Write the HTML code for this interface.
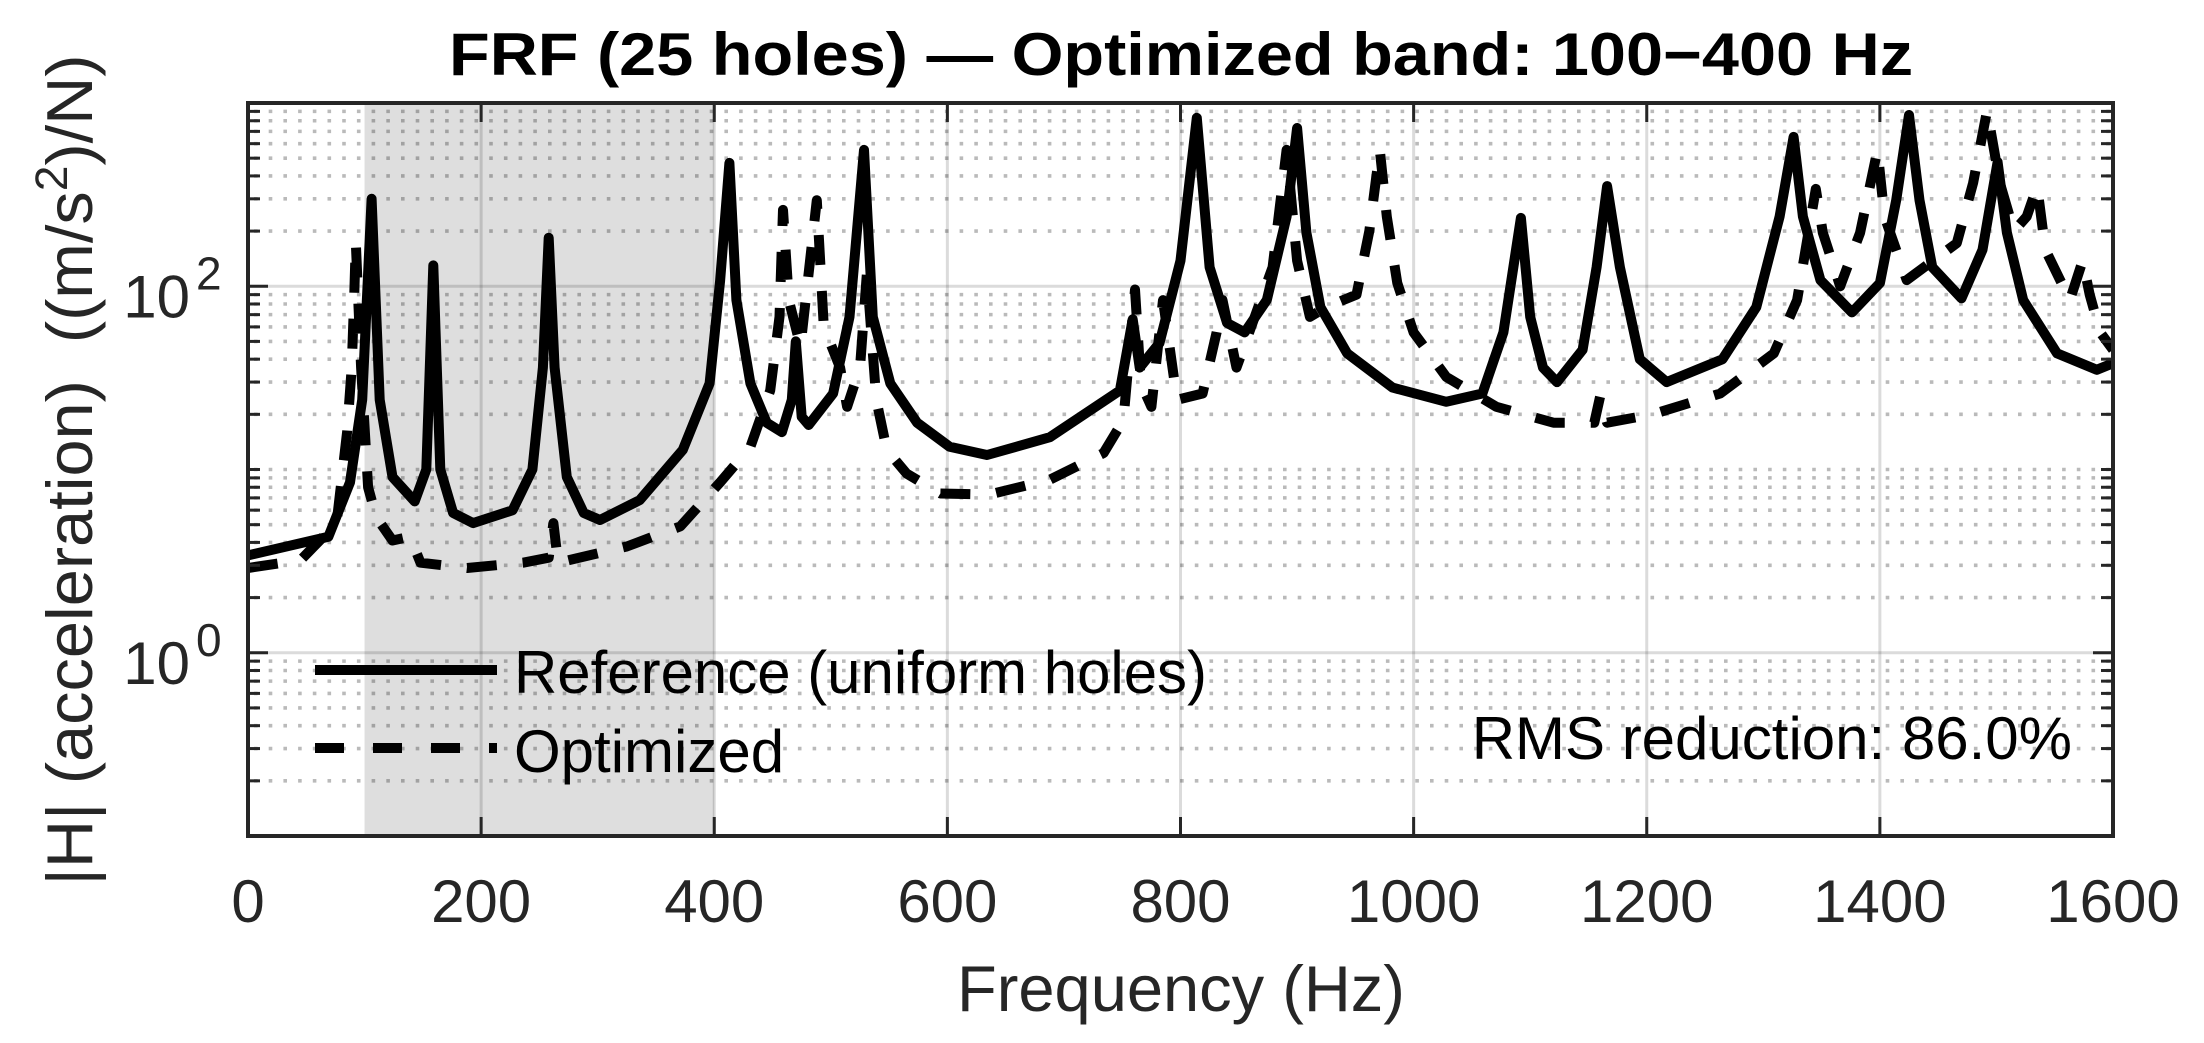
<!DOCTYPE html>
<html><head><meta charset="utf-8">
<style>
html,body{margin:0;padding:0;background:#fff;}
svg{display:block;font-family:"Liberation Sans",Arial,sans-serif;}
</style></head>
<body>
<svg id="chart" width="2204" height="1043" viewBox="0 0 2204 1043" xmlns="http://www.w3.org/2000/svg">
  <rect x="0" y="0" width="2204" height="1043" fill="#fff"/>
  <defs><clipPath id="plotclip"><rect x="248" y="103" width="1865" height="733"/></clipPath></defs>
  <g id="band"></g>
  <g id="grid"></g>
  <g id="series" clip-path="url(#plotclip)"></g>
  <g id="axes"></g>
  <text x="1181" y="75" text-anchor="middle" font-size="60" font-weight="bold" fill="#000" textLength="1464" lengthAdjust="spacingAndGlyphs">FRF (25 holes) — Optimized band: 100−400 Hz</text>
  <text x="1181" y="1011" text-anchor="middle" font-size="65" fill="#262626">Frequency (Hz)</text>
  <text transform="translate(92,470) rotate(-90)" text-anchor="middle" font-size="65" fill="#262626" textLength="831" lengthAdjust="spacingAndGlyphs">|H| (acceleration)&#160;&#160;((m/s<tspan font-size="45" dy="-25">2</tspan><tspan dy="25">)/N)</tspan></text>
  <g>
    <line x1="315" y1="670" x2="497" y2="670" stroke="#000" stroke-width="10"/>
    <text x="514" y="693" font-size="60" fill="#000" textLength="693" lengthAdjust="spacingAndGlyphs">Reference (uniform holes)</text>
    <line x1="315" y1="748" x2="497" y2="748" stroke="#000" stroke-width="10" stroke-dasharray="29 29"/>
    <text x="514" y="772" font-size="60" fill="#000">Optimized</text>
  </g>
  <text x="2072" y="759" text-anchor="end" font-size="60" fill="#000">RMS reduction: 86.0%</text>
</svg>
<script>
const xTicks = [0,200,400,600,800,1000,1200,1400,1600];
const yMajorExps = [0,2];
const bandRange = [100,400];
const refFreq = [0,69,87.5,98,106,113,124,143,153,159,165,176,193,227,244,253,258,263,273.5,288,302,336,373,396,405,413,419,431,445,458,466.5,470,475,481,502,516,528.5,536,551,574,602,634,688,748,759,765,782,800,814,825,840,855,874,891,900,908,920,943,982,1028,1059,1077,1092,1100,1111,1123,1145,1157,1166,1177,1194,1217,1265,1294,1314,1326,1334,1349,1376,1400,1414,1425,1434,1445,1470,1488,1501,1509,1523,1552,1586,1600];
const refVal = [3.4,4.3,8.5,24,300,24,9.1,6.7,10,130,10,5.8,5.1,6.0,10,36,184,36,9.1,5.8,5.3,6.8,12.8,29.5,107,471,84,29.5,18,16,24,50,19.4,17.5,26,68,555,68,29.5,18,13.3,12,15,27,66,36,49,138,830,127,63,56,84,240,730,196,77,43,28,23.4,26,56,236,68,36,30,45,127,352,127,40,30,40,77,240,653,240,108,72,104,295,860,295,127,86,158,476,196,84,43,35,38];
const optFreq = [0,45,76,85,89,91,92.5,97,103,110,124,139,148,188,236,258,262,266,325,371,405,431,448,456,459,464,474,488,494,508,514,525,531,539,548,565,594,636,688,734,751,761,766,775,785,797,819,831,836,848,879,891,900,911,925,951,962,971,977,986,1000,1028,1071,1120,1155,1160,1166,1205,1263,1309,1329,1345,1351,1366,1383,1398,1404,1423,1466,1480,1492,1503,1515,1526,1535,1542,1563,1574,1580,1589,1600];
const optVal = [2.9,3.2,5.1,16,36,84,174,36,8,5.5,4.1,4.3,3.1,2.9,3.1,3.3,5.1,3.1,3.8,4.9,8.5,13.3,27,68,261,84,47,295,60,36,22,36,118,24,12.8,9.5,7.4,7.3,8.8,12.3,18.6,96,29.5,22,84,24,26,56,84,36,127,555,138,68,77,90,200,555,240,104,56,32,22,18,18,25,18,20,26,43,84,340,196,100,196,555,240,108,172,366,910,366,200,240,350,158,84,138,90,56,45];

const NS = "http://www.w3.org/2000/svg";
const L = 248, R = 2113, T = 103, B = 836;
const xMin = 0, xMax = 1600, yLogMin = -1, yLogMax = 3;
function xs(f){ return L + (f - xMin) / (xMax - xMin) * (R - L); }
function ys(v){ return T + (yLogMax - Math.log10(v)) / (yLogMax - yLogMin) * (B - T); }
function mk(tag, attrs, parent){
  const e = document.createElementNS(NS, tag);
  for (const k in attrs) e.setAttribute(k, attrs[k]);
  parent.appendChild(e);
  return e;
}
const gBand = document.getElementById('band');
const gGrid = document.getElementById('grid');
const gSeries = document.getElementById('series');
const gAxes = document.getElementById('axes');

const band = mk('rect', {x: xs(bandRange[0]), y: T, width: xs(bandRange[1]) - xs(bandRange[0]), height: B - T, fill: '#dedede'}, gBand);



for (let e = yLogMin; e < yLogMax + 1; e++) {
  for (let m = 1; m <= 9; m++) {
    const v = m * Math.pow(10, e);
    const lg = Math.log10(v);
    if (lg < yLogMin - 1e-9 || lg > yLogMax + 1e-9) continue;
    const y = ys(v);
    const isMajor = (m === 1 && yMajorExps.indexOf(e) >= 0);
    if (isMajor) {
      const gl = mk('line', {x1: L, x2: R, y1: y, y2: y, stroke: '#000', 'stroke-opacity': 0.14, 'stroke-width': 3}, gGrid);
      
      
    } else {
      const gl = mk('line', {x1: L + 6, x2: R, y1: y, y2: y, stroke: '#000', 'stroke-opacity': 0.27, 'stroke-width': 3.6, 'stroke-dasharray': '3.6 11.1'}, gGrid);
      
      
    }
    const len = isMajor ? 20 : 12;
    const t1 = mk('line', {x1: L, x2: L + len, y1: y, y2: y, stroke: '#262626', 'stroke-width': 3}, gAxes);
    
    
    const t2 = mk('line', {x1: R, x2: R - len, y1: y, y2: y, stroke: '#262626', 'stroke-width': 3}, gAxes);
    
    
  }
}
xTicks.forEach(function(f){
  const x = xs(f);
  if (f > xMin && f < xMax) {
    const gl = mk('line', {x1: x, x2: x, y1: T, y2: B, stroke: '#000', 'stroke-opacity': 0.14, 'stroke-width': 3}, gGrid);
    
    
  }
  const tb = mk('line', {x1: x, x2: x, y1: B, y2: B - 19, stroke: '#262626', 'stroke-width': 3}, gAxes);
  
  
  const tt = mk('line', {x1: x, x2: x, y1: T, y2: T + 19, stroke: '#262626', 'stroke-width': 3}, gAxes);
  
  
  const lb = mk('text', {x: x, y: 922, 'text-anchor': 'middle', 'font-size': 60, fill: '#262626'}, gAxes);
  lb.textContent = String(f);
  
  
});
yMajorExps.forEach(function(e){
  const y = ys(Math.pow(10, e));
  const t = mk('text', {x: 190, y: y + 31, 'text-anchor': 'end', 'font-size': 60, fill: '#262626'}, gAxes);
  t.textContent = '10';
  
  
  const s = mk('text', {x: 196, y: y + 3, 'text-anchor': 'start', 'font-size': 46, fill: '#262626'}, gAxes);
  s.textContent = String(e);
  
  
});
const box = mk('rect', {x: L, y: T, width: R - L, height: B - T, fill: 'none', stroke: '#262626', 'stroke-width': 4}, gAxes);



function pathFor(fr, va){
  let d = '';
  for (let i = 0; i < fr.length; i++) d += (i ? 'L' : 'M') + xs(fr[i]).toFixed(1) + ',' + ys(va[i]).toFixed(1);
  return d;
}
const pOpt = mk('path', {d: pathFor(optFreq, optVal), fill: 'none', stroke: '#000', 'stroke-width': 10, 'stroke-dasharray': '30 26', 'stroke-linejoin': 'round'}, gSeries);


const pRef = mk('path', {d: pathFor(refFreq, refVal), fill: 'none', stroke: '#000', 'stroke-width': 10, 'stroke-linejoin': 'round', 'stroke-linecap': 'round'}, gSeries);


</script>
</body></html>
